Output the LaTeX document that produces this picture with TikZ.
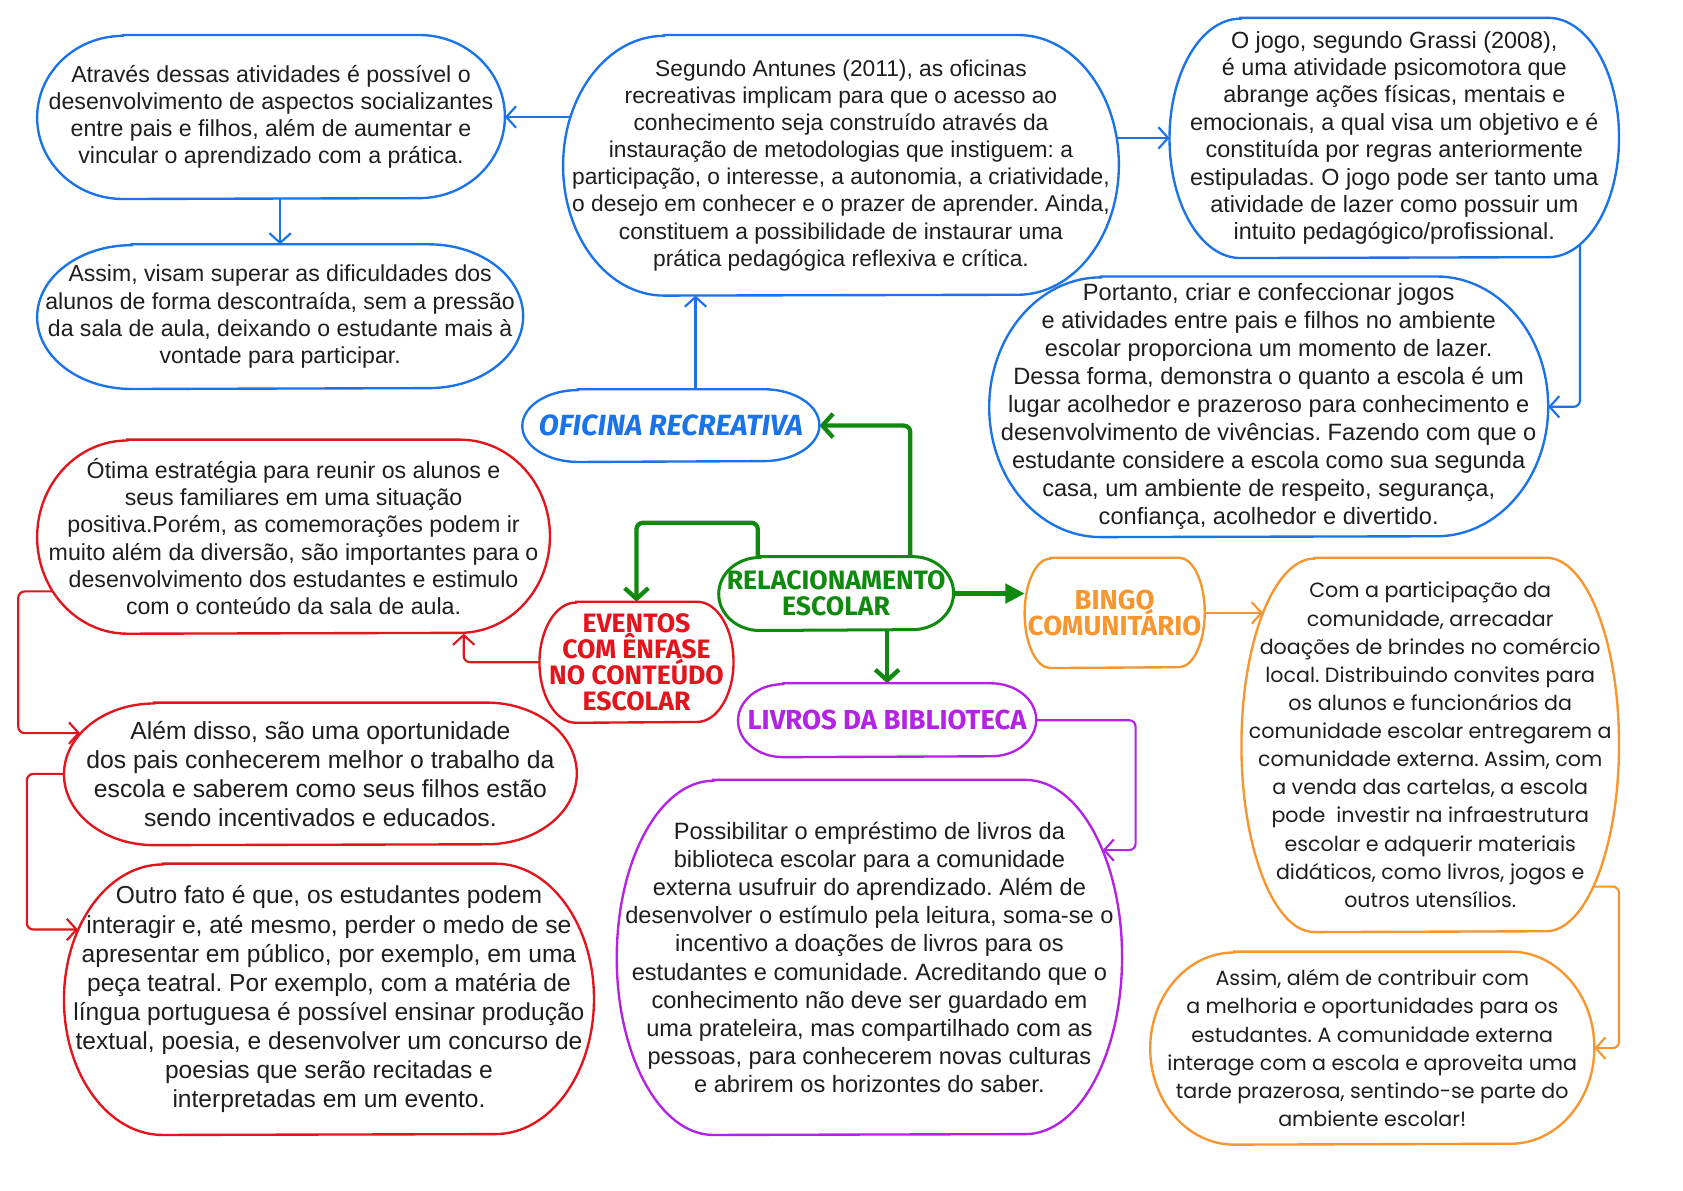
\documentclass[tikz,border=0pt]{standalone}
\usepackage{fontspec}
\setmainfont{Liberation Sans}
\newfontfamily\roundfont{Poppins}
\newfontfamily\headfont{Fira Sans}
\usetikzlibrary{arrows.meta,calc,backgrounds}
\definecolor{mapblue}{HTML}{1A73E8}
\definecolor{mapgreen}{HTML}{0F8A0F}
\definecolor{mapred}{HTML}{E3141B}
\definecolor{maporange}{HTML}{F7962F}
\definecolor{mappurple}{HTML}{B422E6}
\definecolor{inktext}{HTML}{1E1E1E}
\newcommand{\boxfs}[2]{\fontsize{#1}{#2}\selectfont}
\newcommand{\tightlines}{\setlength{\lineskiplimit}{-6pt}}
\frenchspacing
\tikzset{
  textbox/.style={inner sep=0pt,align=center,text=inktext},
  headbox/.style={inner sep=0pt,align=center,font=\headfont\bfseries\boxfs{12.4}{12}\tightlines},
  pillline/.style={line width=1.1pt,fill=white},
  bluearrow/.style={-{Straight Barb[length=4.5pt,width=10pt]},line width=1pt,mapblue,rounded corners=3pt},
  redarrow/.style={-{Straight Barb[length=4.5pt,width=10pt]},line width=1pt,mapred,rounded corners=3pt},
  purplearrow/.style={-{Straight Barb[length=4.5pt,width=10pt]},line width=1pt,mappurple,rounded corners=3pt},
  orangearrow/.style={-{Straight Barb[length=4.5pt,width=10pt]},line width=1pt,maporange,rounded corners=3pt},
  greenarrow/.style={-{Straight Barb[length=5pt,width=11pt]},line width=2pt,mapgreen,rounded corners=3pt},
  greentip/.style={-{Triangle[length=9pt,width=9pt]},line width=2pt,mapgreen}
}

\begin{document}
\begin{tikzpicture}[x=0.5pt,y=-0.5pt]
  \useasboundingbox (0,0) rectangle (1568,1109);

  % Oficina recreativa
  \node[textbox,minimum width=217.5pt,minimum height=76pt,font=\boxfs{10.8}{12.65}] (atraves) at (252.5,109)
    {Através dessas atividades é possível o\\desenvolvimento de aspectos socializantes\\entre pais e filhos, além de aumentar e\\vincular o aprendizado com a prática.};
  \node[textbox,minimum width=226pt,minimum height=67pt,font=\boxfs{10.75}{12.65}] (superar) at (261,295)
    {Assim, visam superar as dificuldades dos\\alunos de forma descontraída, sem a pressão\\da sala de aula, deixando o estudante mais à\\vontade para participar.};
  \node[textbox,minimum width=258.5pt,minimum height=121pt,font=\boxfs{10.6}{12.65}] (antunes) at (783.5,154)
    {Segundo Antunes (2011), as oficinas\\recreativas implicam para que o acesso ao\\conhecimento seja construído através da\\instauração de metodologias que instiguem: a\\participação, o interesse, a autonomia, a criatividade,\\o desejo em conhecer e o prazer de aprender. Ainda,\\constituem a possibilidade de instaurar uma\\prática pedagógica reflexiva e crítica.};
  \node[textbox,minimum width=209pt,minimum height=111.5pt,font=\boxfs{10.9}{12.75}] (grassi) at (1299,128.5)
    {O jogo, segundo Grassi (2008),\\é uma atividade psicomotora que\\abrange ações físicas, mentais e\\emocionais, a qual visa um objetivo e é\\constituída por regras anteriormente\\estipuladas. O jogo pode ser tanto uma\\atividade de lazer como possuir um\\intuito pedagógico/profissional.};
  \node[textbox,minimum width=260pt,minimum height=121pt,font=\boxfs{11}{13.05}] (portanto) at (1182,379)
    {Portanto, criar e confeccionar jogos\\e atividades entre pais e filhos no ambiente\\escolar proporciona um momento de lazer.\\Dessa forma, demonstra o quanto a escola é um\\lugar acolhedor e prazeroso para conhecimento e\\desenvolvimento de vivências. Fazendo com que o\\estudante considere a escola como sua segunda\\casa, um ambiente de respeito, segurança,\\confiança, acolhedor e divertido.};
  \node[headbox,minimum width=138pt,minimum height=33.5pt,text=mapblue,font=\headfont\bfseries\itshape\boxfs{13.6}{12}] (oficina) at (625,396.5) {OFICINA RECREATIVA};

  % Centro
  \node[headbox,minimum width=109pt,minimum height=34pt,text=mapgreen] (relac) at (779,553) {RELACIONAMENTO\\ESCOLAR};

  % Eventos
  \node[headbox,minimum width=90pt,minimum height=56pt,text=mapred] (eventos) at (593,617) {EVENTOS\\COM ÊNFASE\\NO CONTEÚDO\\ESCOLAR};
  \node[textbox,minimum width=238.5pt,minimum height=90pt,font=\boxfs{10.8}{12.7}] (otima) at (273.5,500)
    {Ótima estratégia para reunir os alunos e\\seus familiares em uma situação\\positiva.Porém, as comemorações podem ir\\muito além da diversão, são importantes para o\\desenvolvimento dos estudantes e estimulo\\com o conteúdo da sala de aula.};
  \node[textbox,minimum width=238.5pt,minimum height=66pt,font=\boxfs{11.5}{13.5}] (alem) at (298.5,721)
    {Além disso, são uma oportunidade\\dos pais conhecerem melhor o trabalho da\\escola e saberem como seus filhos estão\\sendo incentivados e educados.};
  \node[textbox,minimum width=246.5pt,minimum height=126pt,font=\boxfs{11.45}{13.55}] (outro) at (306.5,931)
    {Outro fato é que, os estudantes podem\\interagir e, até mesmo, perder o medo de se\\apresentar em público, por exemplo, em uma\\peça teatral. Por exemplo, com a matéria de\\língua portuguesa é possível ensinar produção\\textual, poesia, e desenvolver um concurso de\\poesias que serão recitadas e\\interpretadas em um evento.};

  % Livros
  \node[headbox,minimum width=138.5pt,minimum height=34pt,text=mappurple,font=\headfont\bfseries\boxfs{12.8}{12}] (livros) at (826.5,671) {LIVROS DA BIBLIOTECA};
  \node[textbox,minimum width=235pt,minimum height=165pt,font=\boxfs{11}{13.1}] (possib) at (810,892)
    {Possibilitar o empréstimo de livros da\\biblioteca escolar para a comunidade\\externa usufruir do aprendizado. Além de\\desenvolver o estímulo pela leitura, soma-se o\\incentivo a doações de livros para os\\estudantes e comunidade. Acreditando que o\\conhecimento não deve ser guardado em\\uma prateleira, mas compartilhado com as\\pessoas, para conhecerem novas culturas\\e abrirem os horizontes do saber.};

  % Bingo
  \node[headbox,minimum width=83.5pt,minimum height=51pt,text=maporange,font=\headfont\bfseries\boxfs{12.8}{12}\tightlines] (bingo) at (1038.5,571) {BINGO\\COMUNITÁRIO};
  \node[textbox,minimum width=175.5pt,minimum height=174pt,font=\roundfont\boxfs{9.6}{13.1}] (partic) at (1332.5,694)
    {Com a participação da\\comunidade, arrecadar\\doações de brindes no comércio\\local. Distribuindo convites para\\os alunos e funcionários da\\comunidade escolar entregarem a\\comunidade externa. Assim, com\\a venda das cartelas, a escola\\pode\ \ investir na infraestrutura\\escolar e adquerir materiais\\didáticos, como livros, jogos e\\outros utensílios.};
  \node[textbox,minimum width=206.5pt,minimum height=89.5pt,font=\roundfont\boxfs{9.6}{13.1}] (assim2) at (1278.5,976.5)
    {Assim, além de contribuir com\\a melhoria e oportunidades para os\\estudantes. A comunidade externa\\interage com a escola e aproveita uma\\tarde prazerosa, sentindo-se parte do\\ambiente escolar!};

  \begin{scope}[on background layer]
    \fill[white] (0,0) rectangle (1568,1109);

    % connectors
    \coordinate (oficinaup) at ([xshift=11.5pt]oficina.center);
    \coordinate (grassiout) at ([xshift=86.5pt]grassi.center);
    \draw[bluearrow] (antunes.center |- atraves.east) -- (atraves.east);
    \draw[bluearrow] (atraves.center -| superar.north) -- (superar.north);
    \draw[bluearrow] (antunes.center |- grassi.west) -- (grassi.west);
    \draw[bluearrow] (grassiout) |- (portanto.east);
    \draw[bluearrow] (oficinaup) -- (oficinaup |- antunes.south);

    \coordinate (relacright) at ([xshift=34.5pt]relac.center);
    \coordinate (relacleft) at ([xshift=-36.5pt]relac.center);
    \draw[greenarrow] (relacright) |- (oficina.east);
    \draw[greenarrow] (relacleft) -- ++(0,-66) -| (eventos.north);
    \draw[greentip] (relac.center) -- (relac.center -| bingo.west);
    \draw[greenarrow] (relac.center -| livros.north) -- (livros.north);

    \coordinate (otimafoot) at ([xshift=79.25pt]otima.south);
    \coordinate (otimaout) at ([yshift=-25.5pt]otima.center);
    \coordinate (alemin) at ([shift={(7.5pt,19pt)}]alem.west);
    \coordinate (outroin) at ([shift={(6.5pt,32.5pt)}]outro.west);
    \draw[redarrow] (eventos.center) -| (otimafoot);
    \draw[redarrow] (otimaout) -- ++(-256.5,0) |- (alemin);
    \draw[redarrow] (alem.center) -- ++(-273.5,0) |- (outroin);

    \coordinate (possibin) at ([shift={(-9pt,50pt)}]possib.east);
    \draw[purplearrow] (livros.center) -- ++(231.5,0) |- (possibin);

    \coordinate (particin) at ([shift={(10pt,61.5pt)}]partic.west);
    \coordinate (particout) at ([yshift=-66pt]partic.center);
    \draw[orangearrow] (bingo.center) -- (particin);
    \draw[orangearrow] (particout) -| ([xshift=11.5pt]assim2.east) -- (assim2.east);

    % outlines
    \foreach \n/\c/\rx/\ry/\w in {atraves/mapblue/40/38/1.1, antunes/mapblue/47/60.5/1.1, grassi/mapblue/33/55.75/1.1,
        portanto/mapblue/52/60.5/1.1, superar/mapblue/44/33.5/1.1, oficina/mapblue/26/16.75/1.1, relac/mapgreen/19/17/1.4,
        eventos/mapred/17/28/1.1, otima/mapred/42/45/1.1, alem/mapred/42/33/1.1, outro/mapred/46/63/1.1,
        bingo/maporange/12/25.5/1.1, livros/mappurple/21/17/1.1, possib/mappurple/45/82.5/1.1,
        partic/maporange/34/87/1.1, assim2/maporange/39/44.75/1.1}
      \draw[pillline,draw=\c,line width=\w pt] ([xshift=\rx pt]\n.north west) -- ([xshift=-\rx pt]\n.north east)
        arc[start angle=90,end angle=-90,x radius=\rx pt,y radius=\ry pt]
        -- ([xshift=\rx pt]\n.south west)
        arc[start angle=270,end angle=90,x radius=\rx pt,y radius=\ry pt] -- cycle;
  \end{scope}
\end{tikzpicture}
\end{document}
